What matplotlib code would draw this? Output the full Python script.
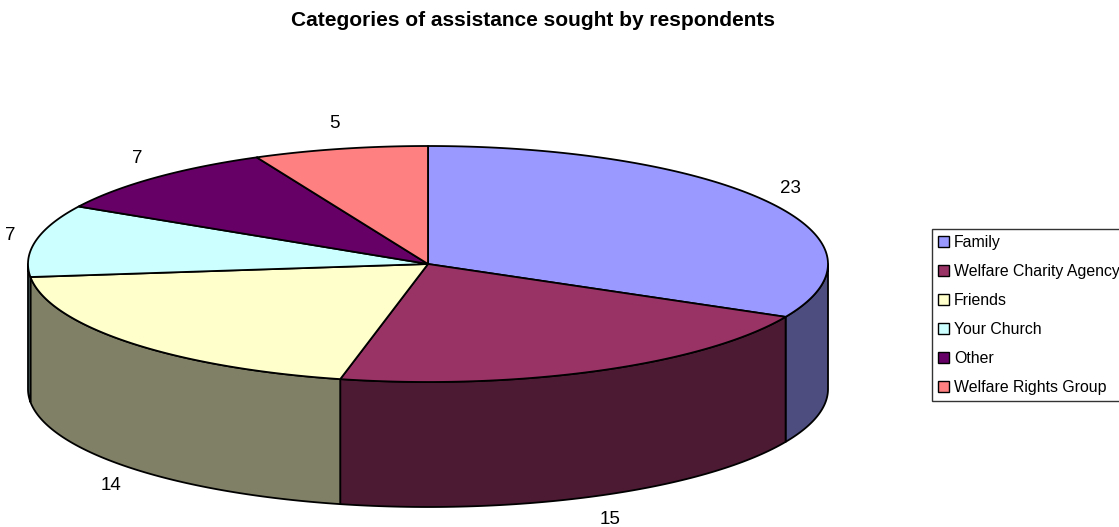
import matplotlib.pyplot as plt
import numpy as np
from matplotlib.patches import Polygon, Patch

plt.rcParams['font.family'] = ['Liberation Sans', 'DejaVu Sans']

# data
categories = ['Family', 'Welfare Charity Agency', 'Friends', 'Your Church',
              'Other', 'Welfare Rights Group']
counts = [23, 15, 14, 7, 7, 5]
colors = ['#9999FF', '#993366', '#FFFFCC', '#CCFFFF', '#660066', '#FF8080']
title = 'Categories of assistance sought by respondents'

W, H = 1119, 527
fig = plt.figure(figsize=(W / 100, H / 100), dpi=100)
ax = fig.add_axes([0, 0, 1, 1])
ax.set_xlim(0, W)
ax.set_ylim(H, 0)
ax.axis('off')

# geometry of the tilted pie (pixels)
cx, cy, rx, ry, depth = 428, 264, 400, 118, 125


def pt(t, dy=0.0):
    return np.column_stack([cx + rx * np.cos(t), cy - ry * np.sin(t) + dy])


def darker(c, f=0.5):
    r, g, b = plt.matplotlib.colors.to_rgb(c)
    return (r * f, g * f, b * f)


fracs = np.array(counts) / sum(counts)
ends = np.pi / 2 - 2 * np.pi * np.cumsum(fracs)
starts = ends + 2 * np.pi * fracs

# side walls (front half only)
for s, e, c in zip(starts, ends, colors):
    a, b = max(e, -np.pi), min(s, 0)
    if b <= a:
        continue
    ts = np.linspace(a, b, 80)
    poly = np.vstack([pt(ts), pt(ts[::-1], depth)])
    ax.add_patch(Polygon(poly, closed=True, facecolor=darker(c),
                         edgecolor='black', lw=1.3, joinstyle='round'))

# top face
for s, e, c in zip(starts, ends, colors):
    ts = np.linspace(s, e, 120)
    poly = np.vstack([[cx, cy], pt(ts)])
    ax.add_patch(Polygon(poly, closed=True, facecolor=c,
                         edgecolor='black', lw=1.3, joinstyle='round'))

# value labels, pushed out from the rim along the mid angle
for s, e, v in zip(starts, ends, counts):
    m = (s + e) / 2
    x0, y0 = pt(np.array([m]), depth if np.sin(m) < 0 else 0)[0]
    ax.text(x0 + 26 * np.cos(m), y0 - 26 * np.sin(m), str(v),
            ha='center', va='center', fontsize=13.5)

ax.text(533, 21, title, ha='center', va='center', fontsize=15,
        fontweight='bold')

handles = [Patch(facecolor=c, edgecolor='black', lw=1) for c in colors]
leg = fig.legend(handles, categories, loc='upper left',
                 bbox_to_anchor=(932 / W, 1 - 229 / H), fontsize=11.4,
                 frameon=True, fancybox=False, shadow=False,
                 handlelength=0.7, handleheight=0.7, handletextpad=0.3,
                 labelspacing=0.88, borderpad=0.4, borderaxespad=0)
leg.get_frame().set_edgecolor('black')
leg.get_frame().set_linewidth(1)

fig.savefig('out.png', dpi=100)
